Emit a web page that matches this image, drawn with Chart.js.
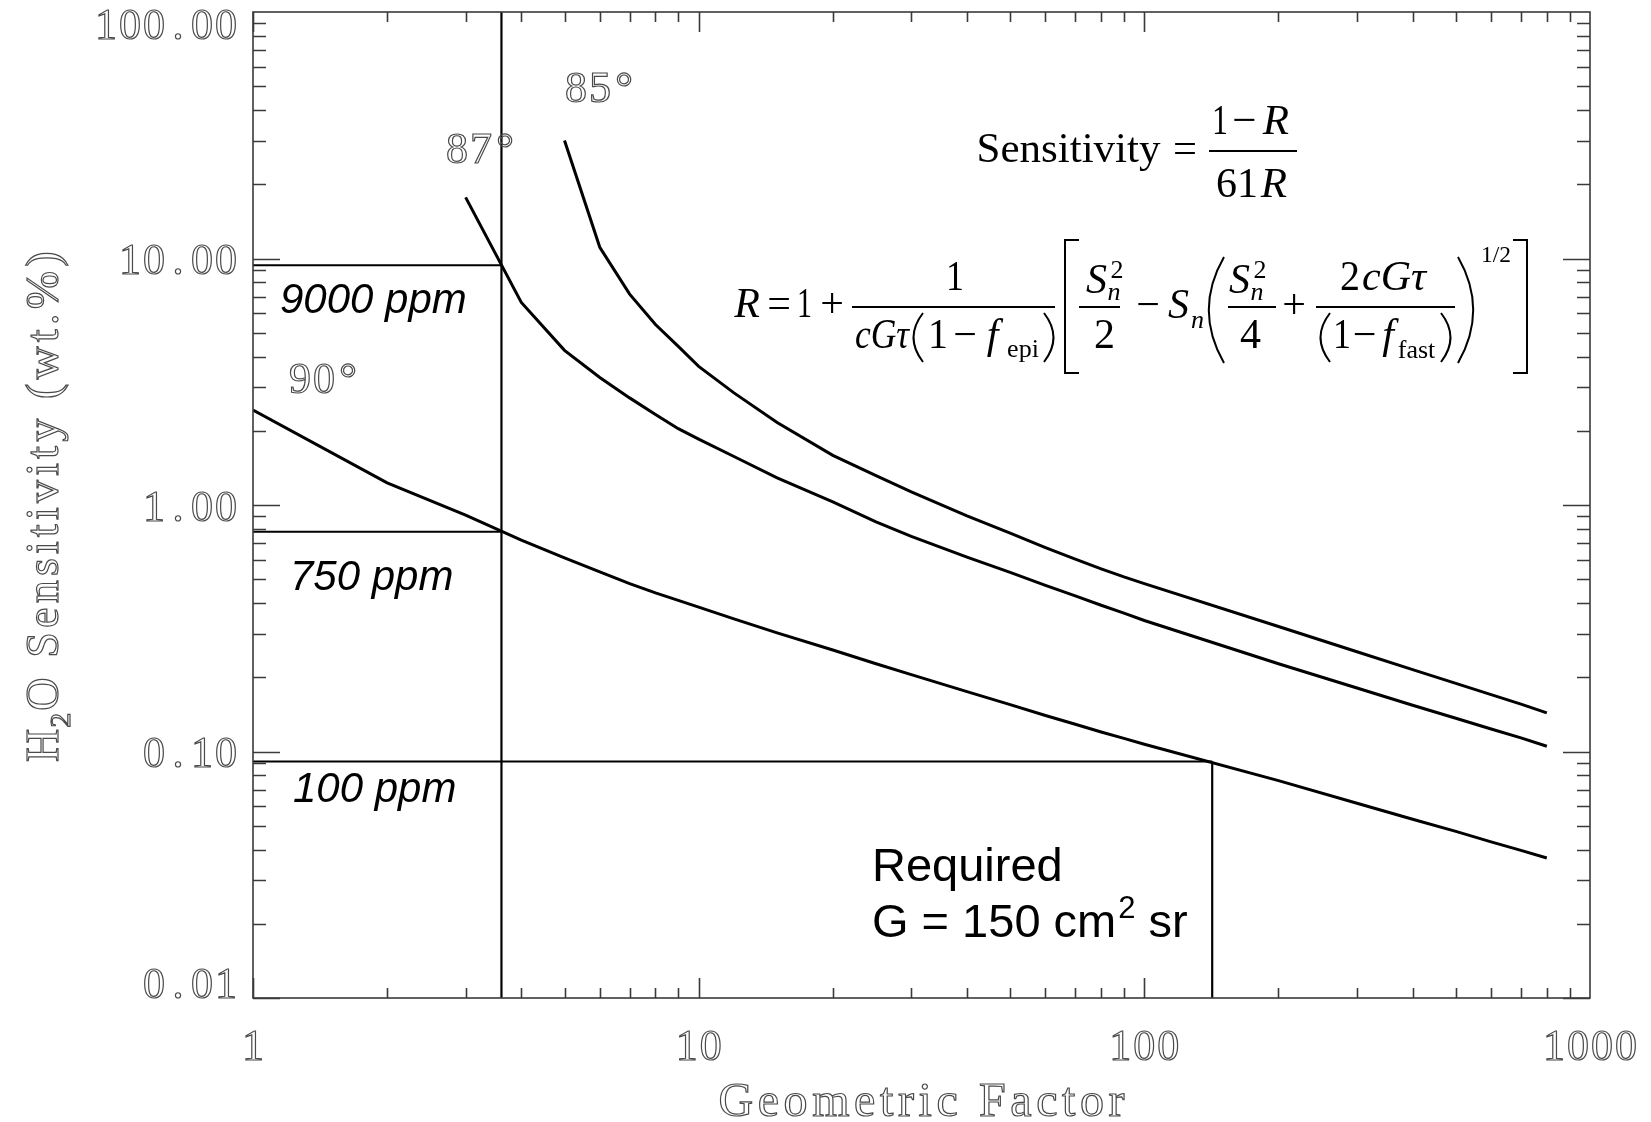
<!DOCTYPE html>
<html>
<head>
<meta charset="utf-8">
<script src="https://cdn.jsdelivr.net/npm/chart.js@4.4.0/dist/chart.umd.min.js"></script>
<style>
  html, body { margin: 0; padding: 0; background: #fff; }
</style>
</head>
<body>
<canvas id="chart" width="1651" height="1122"></canvas>
<script>
// -------- DATA --------
const gFactor = [1, 2, 3, 4, 5, 6, 7, 8, 9, 10, 12, 15, 20, 25, 30, 40, 50, 60, 70, 80, 90, 100, 200, 300, 400, 500, 600, 700, 800];
const sens85 = [null, null, null, null, 30.1, 11.1, 7.17, 5.4, 4.4, 3.65, 2.85, 2.16, 1.59, 1.316, 1.13, 0.903, 0.769, 0.672, 0.603, 0.551, 0.511, 0.48, 0.3215, 0.254, 0.215, 0.189, 0.17, 0.1556, 0.1435];
const sens87 = [null, null, 17.7, 6.63, 4.24, 3.29, 2.72, 2.33, 2.04, 1.85, 1.573, 1.288, 1.03, 0.855, 0.746, 0.615, 0.533, 0.472, 0.428, 0.392, 0.364, 0.34, 0.227, 0.181, 0.154, 0.1365, 0.1234, 0.1136, 0.105];
const sens90 = [2.43, 1.23, 0.91, 0.72, 0.61, 0.535, 0.48, 0.44, 0.41, 0.385, 0.345, 0.303, 0.258, 0.227, 0.205, 0.175, 0.155, 0.14, 0.129, 0.12, 0.113, 0.107, 0.0762, 0.0617, 0.0531, 0.0474, 0.043, 0.0397, 0.037];

const curveLabels = ["85°", "87°", "90°"];

const xTickValues = [1, 10, 100, 1000];
const xTickLabels = ["1", "10", "100", "1000"];
const yTickValues = [0.01, 0.1, 1, 10, 100];
const yTickLabels = ["0.01", "0.10", "1.00", "10.00", "100.00"];

const levelValues = [9.38, 0.779, 0.091];
const levelLabels = ["9000 ppm", "750 ppm", "100 ppm"];
const designG = 3.61;
const requiredG = 142;

const xTitle = "Geometric Factor";

// -------- HELPERS --------
function toPoints(ys) {
  return gFactor.map((g, i) => ({ x: g, y: ys[i] })).filter(p => p.y !== null);
}

function lineSet(points, width) {
  return { data: points, borderColor: "#000", borderWidth: width, pointRadius: 0, tension: 0, fill: false };
}

// Hershey-like outline digits, one cell per character
function monoText(ctx, str, x, y, pitch, align) {
  const n = str.length;
  let start = x;
  if (align === "right") start = x - n * pitch;
  if (align === "center") start = x - n * pitch / 2;
  ctx.textAlign = "center";
  for (let i = 0; i < n; i++) {
    if (str[i] === " ") continue;
    ctx.strokeText(str[i], start + (i + 0.5) * pitch, y);
  }
}

// outline text with extra letter spacing, returns end x
function spacedText(ctx, str, x, y, spacing, align) {
  ctx.textAlign = "left";
  const widths = [...str].map(c => ctx.measureText(c).width);
  const total = widths.reduce((s, w) => s + w, 0) + spacing * (str.length - 1);
  let cx = align === "center" ? x - total / 2 : x;
  [...str].forEach((c, i) => {
    if (c !== " ") ctx.strokeText(c, cx, y);
    cx += widths[i] + spacing;
  });
  return cx;
}

function tok(ctx, text, x0, x1, base, size, italic) {
  ctx.font = (italic ? "italic " : "") + size + 'px "Liberation Serif"';
  ctx.textAlign = "left";
  ctx.textBaseline = "alphabetic";
  const w = ctx.measureText(text).width;
  const box = x1 - x0;
  if (w > box) ctx.fillText(text, x0, base, box);
  else ctx.fillText(text, x0 + (box - w) / 2, base);
}

function bar(ctx, x0, x1, y) {
  ctx.fillRect(x0, y - 1, x1 - x0, 2);
}

function paren(ctx, x0, x1, top, bot, open) {
  ctx.beginPath();
  if (open) {
    ctx.moveTo(x1, top);
    ctx.quadraticCurveTo(x0 - (x1 - x0) * 0.9, (top + bot) / 2, x1, bot);
  } else {
    ctx.moveTo(x0, top);
    ctx.quadraticCurveTo(x1 + (x1 - x0) * 0.9, (top + bot) / 2, x0, bot);
  }
  ctx.stroke();
}

function bracket(ctx, x0, x1, top, bot, open) {
  ctx.beginPath();
  if (open) {
    ctx.moveTo(x1, top); ctx.lineTo(x0, top); ctx.lineTo(x0, bot); ctx.lineTo(x1, bot);
  } else {
    ctx.moveTo(x0, top); ctx.lineTo(x1, top); ctx.lineTo(x1, bot); ctx.lineTo(x0, bot);
  }
  ctx.stroke();
}

function drawEquations(ctx) {
  ctx.save();
  ctx.fillStyle = "#000";
  ctx.strokeStyle = "#000";
  ctx.lineWidth = 2;

  // Sensitivity = (1 - R) / 61R
  tok(ctx, "Sensitivity", 976, 1161, 162, 43);
  tok(ctx, "=", 1173, 1197, 162, 43);
  bar(ctx, 1209, 1297, 151);
  tok(ctx, "1", 1212, 1228, 134, 43);
  tok(ctx, "−", 1231, 1258, 134, 43);
  tok(ctx, "R", 1261, 1291, 134, 43, true);
  tok(ctx, "61", 1216, 1258, 197, 43);
  tok(ctx, "R", 1259, 1289, 197, 43, true);

  // R = 1 + ...
  const s = 42, sm = 26;
  tok(ctx, "R", 733, 761, 317, s, true);
  tok(ctx, "=", 767, 791, 317, s);
  tok(ctx, "1", 797, 812, 317, s);
  tok(ctx, "+", 818, 846, 317, s);
  bar(ctx, 852, 1055, 307);
  tok(ctx, "1", 946, 964, 290, s);
  tok(ctx, "cGτ", 855, 909, 348, s, true);
  paren(ctx, 913, 923, 313, 362, true);
  tok(ctx, "1", 928, 948, 348, s);
  tok(ctx, "−", 952, 978, 348, s);
  tok(ctx, "f", 982, 1003, 348, s, true);
  tok(ctx, "epi", 1006, 1040, 357, sm);
  paren(ctx, 1044, 1054, 313, 362, false);

  bracket(ctx, 1065, 1079, 240, 373, true);
  tok(ctx, "S", 1085, 1108, 293, s, true);
  tok(ctx, "2", 1110, 1124, 278, sm);
  tok(ctx, "n", 1107, 1121, 300, sm, true);
  bar(ctx, 1079, 1120, 307);
  tok(ctx, "2", 1094, 1115, 348, s);
  tok(ctx, "−", 1135, 1161, 318, s);
  tok(ctx, "S", 1166, 1191, 318, s, true);
  tok(ctx, "n", 1191, 1204, 328, sm, true);

  paren(ctx, 1208, 1224, 257, 363, true);
  tok(ctx, "S", 1228, 1251, 293, s, true);
  tok(ctx, "2", 1253, 1267, 278, sm);
  tok(ctx, "n", 1250, 1264, 300, sm, true);
  bar(ctx, 1228, 1276, 307);
  tok(ctx, "4", 1240, 1261, 348, s);
  tok(ctx, "+", 1281, 1307, 318, s);
  tok(ctx, "2", 1340, 1360, 290, s);
  tok(ctx, "cGτ", 1360, 1428, 290, s, true);
  bar(ctx, 1316, 1455, 307);
  paren(ctx, 1320, 1330, 313, 362, true);
  tok(ctx, "1", 1333, 1351, 348, s);
  tok(ctx, "−", 1352, 1377, 348, s);
  tok(ctx, "f", 1379, 1397, 348, s, true);
  tok(ctx, "fast", 1397, 1436, 358, sm);
  paren(ctx, 1441, 1451, 313, 362, false);
  paren(ctx, 1458, 1474, 257, 363, false);
  tok(ctx, "1/2", 1481, 1511, 262, 24);
  bracket(ctx, 1513, 1527, 240, 373, false);
  ctx.restore();
}

// -------- PLUGIN: IDL style frame, ticks and text --------
const idlFrame = {
  id: "idlFrame",
  afterDatasetsDraw(chart) {
    const ctx = chart.ctx;
    const a = chart.chartArea;
    const xs = chart.scales.x;
    const ys = chart.scales.y;

    ctx.save();
    ctx.strokeStyle = "#3a3a3a";
    ctx.lineWidth = 1.6;
    ctx.strokeRect(a.left, a.top, a.right - a.left, a.bottom - a.top);

    ctx.beginPath();
    // y ticks, both sides
    for (let d = -2; d <= 1; d++) {
      for (let m = 1; m <= 9; m++) {
        const y = Math.round(ys.getPixelForValue(m * Math.pow(10, d))) + 0.5;
        const len = m === 1 ? 27 : 13;
        ctx.moveTo(a.left, y); ctx.lineTo(a.left + len, y);
        ctx.moveTo(a.right, y); ctx.lineTo(a.right - len, y);
      }
    }
    // x ticks, bottom and top
    for (let d = 0; d <= 2; d++) {
      for (let m = 1; m <= 9; m++) {
        const x = Math.round(xs.getPixelForValue(m * Math.pow(10, d))) + 0.5;
        const len = m === 1 ? 20 : 10;
        ctx.moveTo(x, a.bottom); ctx.lineTo(x, a.bottom - len);
        ctx.moveTo(x, a.top); ctx.lineTo(x, a.top + len);
      }
    }
    ctx.stroke();

    // tick labels (hollow gray)
    ctx.strokeStyle = "#4a4a4a";
    ctx.lineWidth = 1.2;
    ctx.font = '44px "Liberation Serif"';
    ctx.textBaseline = "middle";
    yTickValues.forEach((v, i) => {
      let y = ys.getPixelForValue(v) + 4;
      y = Math.min(Math.max(y, a.top + 15), a.bottom - 12);
      monoText(ctx, yTickLabels[i], 238, y, 24, "right");
    });
    xTickValues.forEach((v, i) => {
      monoText(ctx, xTickLabels[i], xs.getPixelForValue(v), 1048, 24, "center");
    });

    // curve labels
    monoText(ctx, curveLabels[0], 600, 90, 24, "center");
    monoText(ctx, curveLabels[1], 481, 151, 24, "center");
    monoText(ctx, curveLabels[2], 324, 381, 24, "center");

    // axis titles
    ctx.font = '48px "Liberation Serif"';
    ctx.textBaseline = "alphabetic";
    spacedText(ctx, xTitle, (a.left + a.right) / 2, 1116, 4.6, "center");

    ctx.save();
    ctx.translate(58, 762);
    ctx.rotate(-Math.PI / 2);
    ctx.font = '46px "Liberation Serif"';
    let tx = spacedText(ctx, "H", 0, 0, 0, "left");
    ctx.font = '30px "Liberation Serif"';
    tx = spacedText(ctx, "2", tx + 1, 12, 0, "left");
    ctx.font = '46px "Liberation Serif"';
    spacedText(ctx, "O Sensitivity (wt.%)", tx + 2, 0, 4.2, "left");
    ctx.restore();

    // ppm labels
    ctx.fillStyle = "#000";
    ctx.font = 'italic 42px "Liberation Sans"';
    ctx.textAlign = "left";
    ctx.fillText(levelLabels[0], 280, 313);
    ctx.fillText(levelLabels[1], 290, 590);
    ctx.fillText(levelLabels[2], 293, 802);

    // required geometric factor note
    ctx.font = '47px "Liberation Sans"';
    ctx.fillText("Required", 872, 881);
    const t = "G = 150 cm";
    ctx.fillText(t, 872, 937);
    let x = 872 + ctx.measureText(t).width + 2;
    ctx.font = '31px "Liberation Sans"';
    ctx.fillText("2", x, 918);
    x += ctx.measureText("2").width;
    ctx.font = '47px "Liberation Sans"';
    ctx.fillText(" sr", x, 937);

    drawEquations(ctx);
    ctx.restore();
  }
};

// -------- CHART --------
const levelSets = levelValues.map((v, i) => {
  const endG = i === 2 ? requiredG : designG;
  return lineSet([{ x: 1, y: v }, { x: endG, y: v }], 2);
});

const ctx = document.getElementById("chart");
new Chart(ctx, {
  type: "line",
  data: {
    datasets: [
      lineSet(toPoints(sens85), 3),
      lineSet(toPoints(sens87), 3),
      lineSet(toPoints(sens90), 3),
      ...levelSets,
      lineSet([{ x: designG, y: 0.01 }, { x: designG, y: 100 }], 2.2),
      lineSet([{ x: requiredG, y: 0.01 }, { x: requiredG, y: levelValues[2] }], 2.2)
    ]
  },
  options: {
    responsive: false,
    animation: false,
    devicePixelRatio: 1,
    layout: { padding: { left: 253, top: 12, right: 61, bottom: 124 } },
    plugins: { legend: { display: false }, tooltip: { enabled: false } },
    scales: {
      x: { type: "logarithmic", min: 1, max: 1000, display: false },
      y: { type: "logarithmic", min: 0.01, max: 100, display: false }
    }
  },
  plugins: [idlFrame]
});
</script>
</body>
</html>
